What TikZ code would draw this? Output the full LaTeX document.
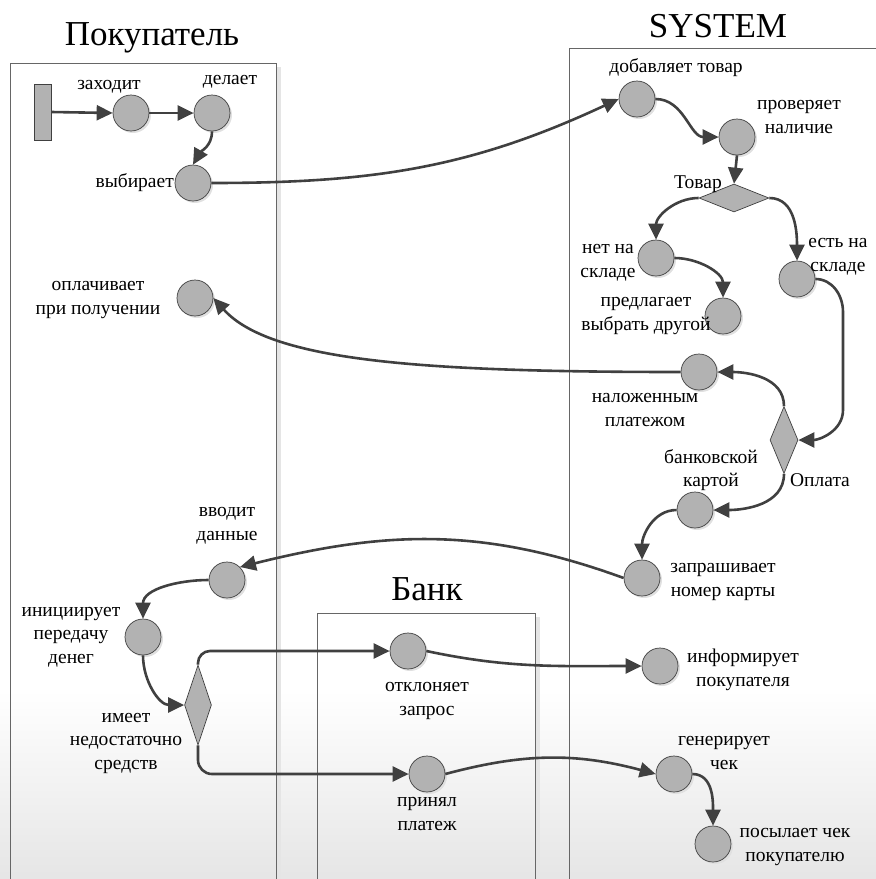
\documentclass[tikz,border=0pt]{standalone}
\usepackage{fontspec}
\setmainfont{Liberation Serif}
\usetikzlibrary{arrows.meta,shapes.geometric,shadows}

\tikzset{
  act/.style={circle, draw=black!75, line width=0.7pt, fill=black!30, minimum size=36pt, inner sep=0pt,
    drop shadow={shadow xshift=2pt, shadow yshift=-2pt, fill=black!12, opacity=1}},
  dec/.style={diamond, draw=black!75, line width=0.7pt, fill=black!30, inner sep=0pt},
  bar/.style={draw=black!75, line width=0.7pt, fill=black!30, minimum width=17pt, minimum height=56pt, inner sep=0pt},
  lbl/.style={align=center, font=\fontsize{19.5}{23.5}\selectfont, inner sep=0pt},
  ttl/.style={font=\fontsize{35}{40}\selectfont, inner sep=0pt, anchor=base},
  flow/.style={draw=black!75, line width=2.6pt, -{Triangle[length=16pt,width=15pt]}},
  lane/.style={draw=black!60, line width=0.9pt}
}

\begin{document}
\begin{tikzpicture}[x=1pt,y=1pt]
\useasboundingbox (0,0) rectangle (876,-879);
% grey fading at the bottom
\shade[top color=white, bottom color=black!10] (0,-690) rectangle (876,-879);
% swimlanes
\fill[black!10] (276,-67) rectangle (281,-879); % lane shadow
\fill[black!10] (535,-617) rectangle (540,-879); % lane shadow
\draw[lane] (10,-879) |- (276,-63) -- (276,-879); % Покупатель
\draw[lane] (569,-879) |- (880,-48); % SYSTEM
\draw[lane] (317,-879) |- (535,-613) -- (535,-879); % Банк
\node[ttl] (t-pok) at (152,-45) {Покупатель};
\node[ttl] (t-sys) at (718,-37) {SYSTEM};
\node[ttl] (t-bank) at (427,-600) {Банк};

% activities of the buyer
\node[bar] (start) at (42.5,-112) {};
\node[act] (zahod) at (131,-113) {};
\node[act] (delaet) at (212,-113) {};
\node[act] (vybir) at (193,-183) {};
\node[act] (oplach) at (195,-298) {};
\node[act] (vvod) at (227,-580) {};
\node[act] (inic) at (143,-637) {};
\node[dec, minimum width=27pt, minimum height=80pt] (imeet) at (198,-705) {};
% activities of the system
\node[act] (dobav) at (637,-99) {};
\node[act] (prover) at (737,-137) {};
\node[dec, minimum width=70pt, minimum height=28pt] (tovar) at (734,-198) {};
\node[act] (net) at (656,-258) {};
\node[act] (predl) at (723,-316) {};
\node[act] (est) at (797,-279) {};
\node[act] (nalozh) at (699,-372) {};
\node[dec, minimum width=28pt, minimum height=67pt] (oplata) at (784,-440) {};
\node[act] (kart) at (695,-510) {};
\node[act] (zapr) at (642,-578) {};
\node[act] (inform) at (660,-666) {};
\node[act] (gener) at (674,-774) {};
\node[act] (posyl) at (713,-844) {};
% activities of the bank
\node[act] (otkl) at (408,-651) {};
\node[act] (prin) at (427,-774) {};

% labels
\node[lbl] (l-zahod) at (109,-87) {заходит};
\node[lbl] (l-delaet) at (230,-82) {делает};
\node[lbl, anchor=east] (l-vybir) at (174,-183) {выбирает};
\node[lbl] (l-oplach) at (98,-300) {оплачивает\\при получении};
\node[lbl] (l-vvod) at (227,-526) {вводит\\данные};
\node[lbl] (l-inic) at (71,-637) {инициирует\\передачу\\денег};
\node[lbl] (l-imeet) at (126,-743) {имеет\\недостаточно\\средств};
\node[lbl] (l-dobav) at (676,-68) {добавляет товар};
\node[lbl] (l-prover) at (799,-117) {проверяет\\наличие};
\node[lbl] (l-tovar) at (698,-184) {Товар};
\node[lbl] (l-net) at (608,-263) {нет на\\складе};
\node[lbl] (l-predl) at (646,-316) {предлагает\\выбрать другой};
\node[lbl] (l-est) at (838,-257) {есть на\\складе};
\node[lbl] (l-nalozh) at (645,-410) {наложенным\\платежом};
\node[lbl] (l-oplata) at (820,-480) {Оплата};
\node[lbl] (l-kart) at (711,-470) {банковской\\картой};
\node[lbl] (l-zapr) at (723,-582) {запрашивает\\номер карты};
\node[lbl] (l-inform) at (743,-670) {информирует\\покупателя};
\node[lbl] (l-gener) at (724,-753) {генерирует\\чек};
\node[lbl] (l-posyl) at (795,-847) {посылает чек\\покупателю};
\node[lbl] (l-otkl) at (427,-701) {отклоняет\\запрос};
\node[lbl] (l-prin) at (427,-814) {принял\\платеж};

% flows
\draw[flow] (start.east) -- (zahod.west);
\draw[flow] (zahod.east) -- (delaet.west);
\draw[flow] (delaet.south) to[out=-90,in=60] (vybir.north);
\draw[flow] (vybir.east) to[out=0,in=205] (dobav.west);
\draw[flow] (dobav.east) to[out=0,in=180] (prover.west);
\draw[flow] (prover.south) -- (tovar.north);
\draw[flow] (tovar.west) to[out=180,in=90] (net.north);
\draw[flow] (tovar.east) to[out=0,in=90] (est.north);
\draw[flow] (net.east) to[out=0,in=90] (predl.north);
\draw[flow] (est.east) to[out=0,in=90] (843,-312) -- (843,-410) to[out=-90,in=0] (oplata.east);
\draw[flow] (oplata.north) to[out=90,in=0] (nalozh.east);
\draw[flow] (oplata.south) to[out=-90,in=0] (kart.east);
\draw[flow] (kart.west) to[out=180,in=90] (zapr.north);
\draw[flow] (nalozh.west) to[out=180,in=-48,out distance=260pt,in distance=85pt] (oplach.east);
\draw[flow] (zapr.west) to[out=160,in=14] (vvod.north east);
\draw[flow] (vvod.west) to[out=180,in=90] (inic.north);
\draw[flow] (inic.south) to[out=-90,in=180] (imeet.west);
\draw[flow, rounded corners=12pt] (imeet.north) |- (otkl.west);
\draw[flow, rounded corners=14pt] (imeet.south) |- (prin.west);
\draw[flow] (otkl.east) to[out=-12,in=180] (inform.west);
\draw[flow] (prin.east) to[out=15,in=165] (gener.west);
\draw[flow] (gener.east) to[out=0,in=90] (posyl.north);
\end{tikzpicture}
\end{document}
